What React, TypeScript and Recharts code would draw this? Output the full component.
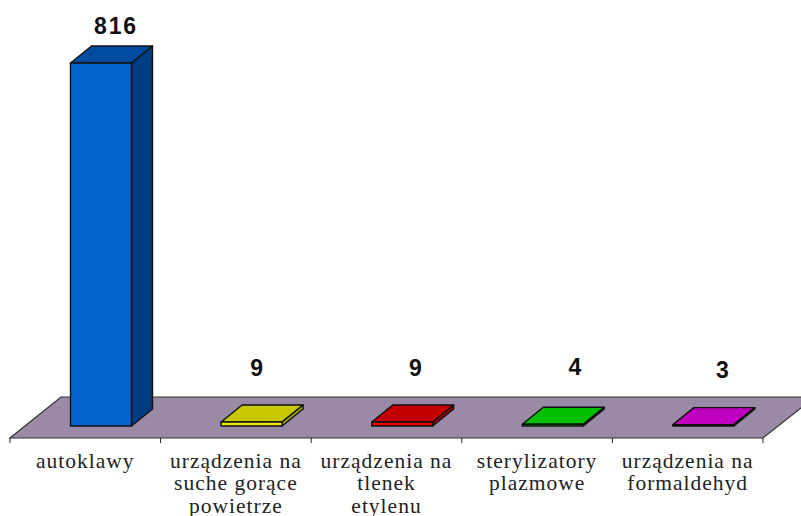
import React from "react";
import { BarChart, Bar, XAxis, YAxis, LabelList, usePlotArea } from "recharts";

const categories = [
  "autoklawy",
  "urządzenia na\nsuche gorące\npowietrze",
  "urządzenia na\ntlenek\netylenu",
  "sterylizatory\nplazmowe",
  "urządzenia na\nformaldehyd",
];
const values = [816, 9, 9, 4, 3];
const frontColors = ["#0563cd", "#e8e800", "#e80000", "#00d000", "#d000d0"];
const topColors = ["#004c9e", "#c8c800", "#c40000", "#00bf00", "#c000c0"];
const sideColors = ["#003c80", "#a0a000", "#980000", "#009000", "#900090"];
const labelShiftX = [15, 6, 14, 23, 20];
const labelY = [26, 368, 368, 367, 370];

const data = categories.map((name, i) => ({ name, value: values[i] }));

const DX = 21;
const DY = 17;
const BAR_SHIFT = 15.5;

function Floor() {
  const p = usePlotArea();
  if (!p) return null;
  const front = p.y + p.height + 12;
  const left = p.x;
  const right = p.x + p.width;
  const back = front - 41;
  return (
    <g>
      <polygon
        points={`${left},${front} ${right},${front} ${right + 52},${back} ${left + 51},${back}`}
        fill="#9a8aa5"
        stroke="#333"
        strokeWidth={1.2}
      />
    </g>
  );
}

function Bar3D(props: any) {
  const { x, y, width, height, index } = props;
  const l = x + BAR_SHIFT;
  const r = l + width;
  const b = y + height;
  return (
    <g stroke="#111" strokeWidth={1.4} strokeLinejoin="round">
      <polygon
        points={`${l},${y} ${l + DX},${y - DY} ${r + DX},${y - DY} ${r},${y}`}
        fill={topColors[index]}
      />
      <polygon
        points={`${r},${y} ${r + DX},${y - DY} ${r + DX},${b - DY} ${r},${b}`}
        fill={sideColors[index]}
      />
      <rect x={l} y={y} width={width} height={height} fill={frontColors[index]} />
    </g>
  );
}

function CategoryTick(props: any) {
  const { x, payload, index } = props;
  const lines = String(payload.value).split("\n");
  const step = 150.6;
  const tickX = x - step / 2;
  const axisY = 426;
  return (
    <g>
      <line x1={tickX} y1={axisY + 12} x2={tickX} y2={axisY + 17} stroke="#222" />
      {index === categories.length - 1 && (
        <line x1={tickX + step} y1={axisY + 12} x2={tickX + step} y2={axisY + 17} stroke="#222" />
      )}
      {lines.map((line: string, i: number) => (
        <text
          key={i}
          x={x}
          y={axisY + 41.5 + i * 22.5}
          textAnchor="middle"
          fontFamily="'Liberation Serif', serif"
          fontSize={21.5}
          letterSpacing={1}
          fill="#222"
        >
          {line}
        </text>
      ))}
    </g>
  );
}

function ValueLabel(props: any) {
  const { x, width, value, index } = props;
  return (
    <text
      x={x + BAR_SHIFT + width / 2 + labelShiftX[index]}
      y={labelY[index]}
      textAnchor="middle"
      dominantBaseline="central"
      fontFamily="'Liberation Sans', sans-serif"
      fontWeight="bold"
      fontSize={23}
      letterSpacing={1.8}
      fill="#111"
    >
      {value}
    </text>
  );
}

export default function App() {
  return (
    <div style={{ position: "absolute", left: 0, top: 0, width: 801, height: 516, overflow: "hidden", background: "#fff" }}>
      <BarChart
        width={801}
        height={516}
        data={data}
        margin={{ top: 63, left: 10, right: 38, bottom: 0 }}
      >
        <Floor />
        <XAxis
          dataKey="name"
          height={90}
          axisLine={false}
          tickLine={false}
          interval={0}
          tick={<CategoryTick />}
        />
        <YAxis hide domain={[0, 816]} />
        <Bar dataKey="value" barSize={61} shape={<Bar3D />} isAnimationActive={false}>
          <LabelList dataKey="value" content={<ValueLabel />} />
        </Bar>
      </BarChart>
    </div>
  );
}
